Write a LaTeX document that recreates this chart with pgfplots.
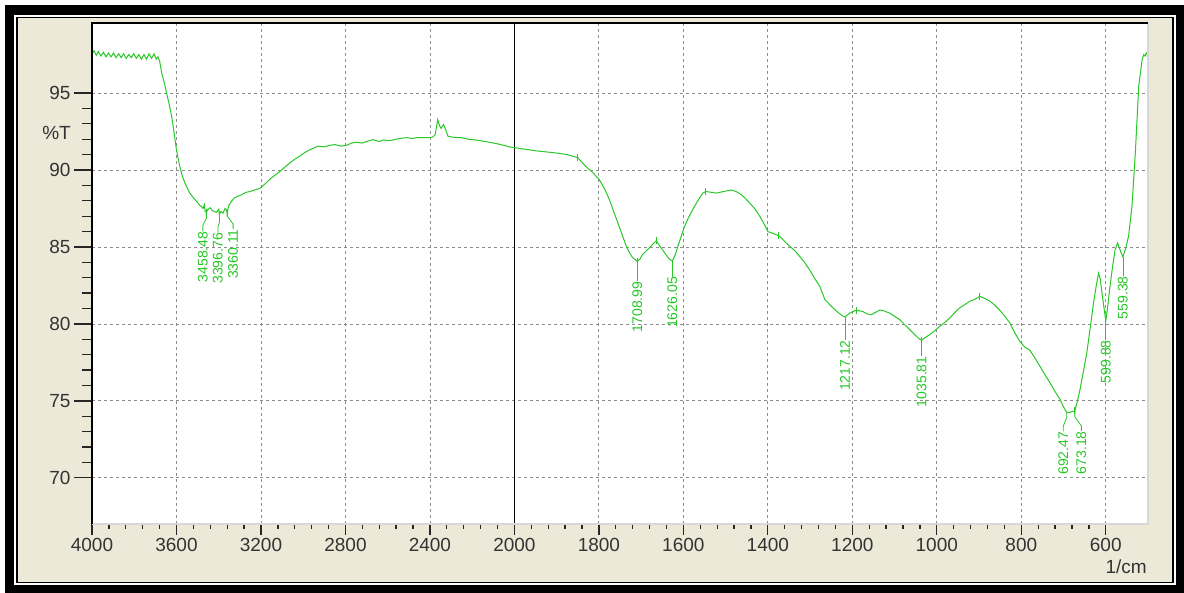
\documentclass[border=0pt]{standalone}
\usepackage{fontspec}
\setmainfont{Liberation Sans}
\usepackage{pgfplots}
\pgfplotsset{compat=1.18}
\usepackage{pgfplotstable}
\definecolor{spec}{RGB}{40,200,40}
\definecolor{lbl}{RGB}{40,200,40}
\definecolor{panel}{RGB}{236,233,216}
\definecolor{gridc}{RGB}{140,140,140}
\definecolor{edge}{RGB}{215,215,215}
\newcommand\tf{\fontsize{19}{20}\selectfont}
\newcommand\lf{\fontsize{14}{14}\selectfont}
\pgfdeclarelayer{background}
\pgfsetlayers{background,main}

\pgfplotstableread{
w t
4000 97.55
3990 97.75
3980 97.45
3970 97.70
3958 97.40
3946 97.65
3934 97.35
3922 97.60
3910 97.35
3898 97.60
3886 97.30
3874 97.55
3862 97.30
3850 97.55
3838 97.25
3826 97.50
3814 97.30
3802 97.55
3790 97.25
3778 97.50
3766 97.20
3754 97.50
3742 97.20
3730 97.55
3718 97.25
3706 97.55
3696 97.20
3688 97.35
3680 97.10
3670 96.30
3658 95.70
3647 95.00
3635 94.30
3623 93.50
3611 92.40
3600 91.30
3584 90.20
3572 89.60
3560 89.15
3548 88.80
3537 88.50
3520 88.20
3505 87.96
3490 87.70
3480 87.60
3474 87.50
3468 87.75
3464 87.30
3458.48 87.25
3450 87.45
3440 87.55
3430 87.35
3420 87.30
3410 87.25
3400 87.45
3396.76 87.10
3390 87.30
3380 87.20
3370 87.50
3364 87.40
3360.11 87.25
3352 87.70
3340 87.96
3325 88.20
3308 88.30
3290 88.40
3270 88.55
3253 88.60
3230 88.70
3206 88.80
3180 89.10
3158 89.40
3135 89.65
3111 89.90
3090 90.15
3064 90.45
3040 90.70
3017 90.90
2985 91.20
2954 91.40
2930 91.55
2900 91.50
2875 91.60
2850 91.65
2820 91.55
2796 91.60
2770 91.75
2749 91.80
2720 91.75
2700 91.85
2670 91.97
2640 91.85
2620 91.95
2591 91.90
2560 92.00
2540 92.05
2512 92.10
2480 92.05
2460 92.10
2434 92.10
2400 92.10
2386 92.15
2375 92.30
2363 93.27
2355 92.90
2347 92.70
2336 92.95
2325 92.60
2315 92.20
2300 92.15
2276 92.10
2250 92.10
2220 92.00
2197 91.97
2160 91.90
2118 91.80
2080 91.70
2050 91.60
2024 91.50
2000 91.45
1950 91.25
1900 91.10
1875 91.00
1850 90.80
1830 90.20
1815 89.85
1799 89.37
1787 88.80
1775 88.07
1765 87.30
1755 86.56
1745 85.80
1735 85.04
1727 84.60
1720 84.30
1708.99 84.07
1703 84.20
1697 84.50
1688 84.75
1680 84.94
1672 85.20
1664 85.40
1657 85.10
1649 84.80
1640 84.45
1633 84.20
1626.05 84.10
1619 84.50
1613 85.04
1605 85.70
1597 86.34
1588 86.90
1578 87.42
1566 88.00
1554 88.50
1546 88.60
1534 88.55
1522 88.50
1505 88.60
1487 88.70
1475 88.60
1463 88.40
1453 88.15
1443 87.86
1430 87.45
1419 86.99
1408 86.45
1400 86.00
1385 85.85
1372 85.70
1360 85.35
1348 85.04
1336 84.75
1325 84.40
1313 84.00
1301 83.50
1289 82.95
1277 82.44
1265 81.58
1255 81.30
1246 81.04
1234 80.75
1222 80.50
1217.12 80.45
1206 80.70
1191 80.90
1175 80.80
1165 80.65
1155 80.60
1145 80.75
1135 80.90
1125 80.85
1112 80.70
1100 80.50
1088 80.28
1076 79.95
1064 79.63
1052 79.30
1040 78.98
1035.81 78.95
1028 79.10
1017 79.30
1005 79.55
993 79.84
981 80.10
969 80.39
957 80.75
946 81.04
934 81.25
922 81.47
910 81.60
898 81.79
886 81.65
874 81.47
862 81.20
851 80.90
839 80.50
827 80.06
815 79.40
803 78.85
792 78.50
780 78.30
768 77.80
756 77.25
744 76.70
732 76.17
720 75.60
708 75.08
700 74.60
692.47 74.25
685 74.25
677 74.33
673.18 74.35
667 75.00
661 75.73
653 76.90
645 78.10
637 79.70
629 81.36
623 82.40
617 83.30
613 82.90
609 82.00
604 81.00
599.88 80.20
596 81.00
590 82.44
584 83.70
578 84.80
572 85.26
566 84.80
559.38 84.35
553 84.90
546 85.70
538 87.64
530 91.10
522 95.43
514 97.16
510 97.50
507 97.40
504 97.60
501 97.50
}\spec

\pgfplotstableread{
w t
3458.48 87.25
3396.76 87.10
3360.11 87.25
1850 90.80
1708.99 84.07
1664 85.40
1549 88.60
1376 85.75
1191 80.90
1035.81 78.95
898 81.79
673.18 74.35
}\pmarks

\begin{document}
\begin{tikzpicture}[x=1pt,y=1pt,
  declare function={wn(\w)=(4000-\w+max(2000-\w,0))/400;}]

\begin{axis}[
  name=ax,
  width=1056pt, height=501pt, scale only axis,
  xmin=0, xmax=12.5, ymin=67, ymax=99.55,
  axis background/.style={fill=white},
  axis line style={draw=none},
  xtick={0,...,12}, xmajorticks=false,
  xmajorgrids=true, ymajorgrids=true,
  ytick={70,75,...,95}, minor y tick num=4,
  ytick pos=left, tick align=outside,
  major tick length=18pt, minor tick length=10pt,
  y tick style={black!85, line width=1.3pt},
  major grid style={gridc, dash pattern=on 3pt off 3pt, line width=0.8pt},
  yticklabel style={font=\tf, text=black!80},
  /pgf/number format/assume math mode=true,
]
\draw[black, line width=1.3pt] (axis cs:5,67) -- (axis cs:5,99.55);
\addplot[spec, line width=1pt, mark=none] table[x expr={wn(\thisrow{w})}, y=t] {\spec};
\addplot[spec, only marks, mark=|, mark size=3.5pt, line width=0.8pt] table[x expr={wn(\thisrow{w})}, y=t] {\pmarks};

% peak labels
\draw[lbl, line width=0.8pt] (axis cs:{wn(3458.48)},87.25) -- ++(0pt,-6pt) -- ++(-3.5pt,-7pt) -- ++(0pt,-6pt)
  node[anchor=east, rotate=90, inner sep=0pt, font=\lf, text=lbl] {3458.48};
\draw[lbl, line width=0.8pt] (axis cs:{wn(3396.76)},87.10) -- ++(0pt,-8pt) -- ++(-1.5pt,-4pt) -- ++(0pt,-6pt)
  node[anchor=east, rotate=90, inner sep=0pt, font=\lf, text=lbl] {3396.76};
\draw[lbl, line width=0.8pt] (axis cs:{wn(3360.11)},87.40) -- ++(0pt,-6pt) -- ++(6pt,-8pt) -- ++(0pt,-5pt)
  node[anchor=east, rotate=90, inner sep=0pt, font=\lf, text=lbl] {3360.11};
\draw[lbl, line width=0.8pt] (axis cs:{wn(1708.99)},84.07) -- ++(0pt,-20pt)
  node[anchor=east, rotate=90, inner sep=0pt, font=\lf, text=lbl] {1708.99};
\draw[lbl, line width=0.8pt] (axis cs:{wn(1626.05)},84.10) -- ++(0pt,-16pt)
  node[anchor=east, rotate=90, inner sep=0pt, font=\lf, text=lbl] {1626.05};
\draw[lbl, line width=0.8pt] (axis cs:{wn(1217.12)},80.45) -- ++(0pt,-23pt)
  node[anchor=east, rotate=90, inner sep=0pt, font=\lf, text=lbl] {1217.12};
\draw[lbl, line width=0.8pt] (axis cs:{wn(1035.81)},78.95) -- ++(0pt,-16pt)
  node[anchor=east, rotate=90, inner sep=0pt, font=\lf, text=lbl] {1035.81};
\draw[lbl, line width=0.8pt] (axis cs:{wn(692.47)},74.25) -- ++(0pt,-5pt) -- ++(-3.5pt,-9pt) -- ++(0pt,-5pt)
  node[anchor=east, rotate=90, inner sep=0pt, font=\lf, text=lbl] {692.47};
\draw[lbl, line width=0.8pt] (axis cs:{wn(673.18)},74.35) -- ++(0pt,-6pt) -- ++(6.5pt,-9pt) -- ++(0pt,-5pt)
  node[anchor=east, rotate=90, inner sep=0pt, font=\lf, text=lbl] {673.18};
\draw[lbl, line width=0.8pt] (axis cs:{wn(599.88)},80.20) -- ++(0pt,-19pt)
  node[anchor=east, rotate=90, inner sep=0pt, font=\lf, text=lbl] {599.88};
\draw[lbl, line width=0.8pt] (axis cs:{wn(559.38)},84.35) -- ++(0pt,-19pt)
  node[anchor=east, rotate=90, inner sep=0pt, font=\lf, text=lbl] {559.38};
\end{axis}

\begin{axis}[
  at={(ax.south west)}, anchor=south west,
  width=1056pt, height=501pt, scale only axis,
  xmin=0, xmax=12.5, ymin=67, ymax=99.55,
  axis line style={draw=none},
  hide y axis,
  xtick={0,...,12},
  xticklabels={4000,3600,3200,2800,2400,2000,1800,1600,1400,1200,1000,800,600},
  minor x tick num=4,
  xtick pos=bottom, tick align=outside,
  major tick length=11pt, minor tick length=5pt,
  x tick style={black!85, line width=1.3pt},
  xticklabel style={font=\tf, text=black!80},
]
\end{axis}

\begin{scope}[shift={(ax.south west)}]
\begin{pgfonlayer}{background}
\fill[white] (-92,-69) rectangle (1092,524);
\fill[black] (-87,-69) rectangle (1092,519);
\draw[white, line width=1.5pt] (-77.2,-59.8) rectangle (1083,508.2);
\draw[black, line width=1.2pt] (-75,-58.5) rectangle (1081,506.5);
\fill[panel] (-73.7,-57.7) rectangle (1080.3,505.7);
\end{pgfonlayer}
\draw[edge, line width=1.2pt] (0,0) -- (1056,0) -- (1056,501);
\draw[black, line width=2pt] (0,0) -- (0,501) -- (1056,501);
\node[anchor=base east, font=\tf, text=black!80, inner sep=0pt] at (-21,384.7) {\%T};
\node[anchor=base east, font=\tf, text=black!80, inner sep=0pt] at (1055,-49.5) {1/cm};
\pgfresetboundingbox
\useasboundingbox (-92,-69) rectangle (1092,524);
\end{scope}
\end{tikzpicture}
\end{document}
